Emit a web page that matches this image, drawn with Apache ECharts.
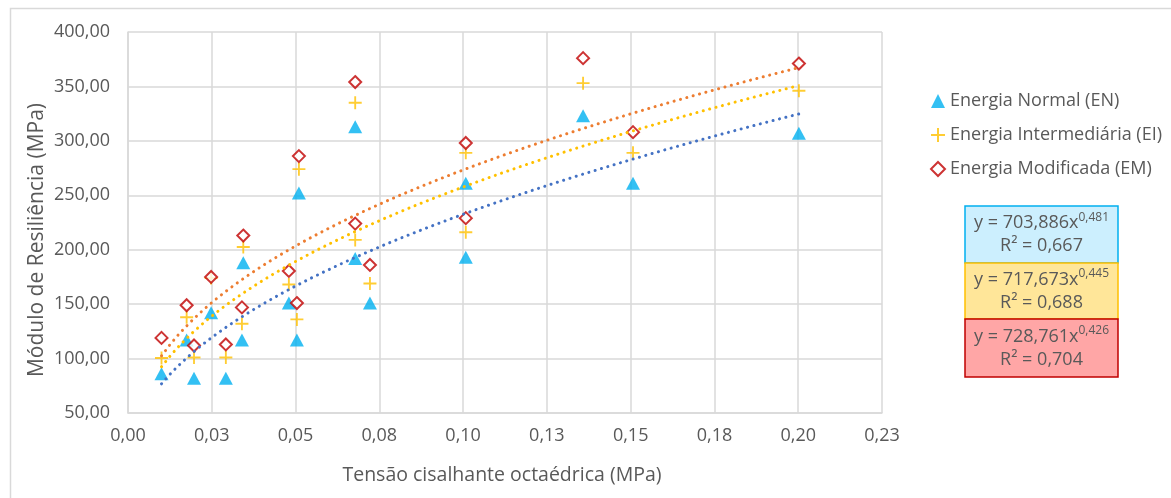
<!DOCTYPE html>
<html>
<head>
<meta charset="utf-8">
<script src="https://cdn.jsdelivr.net/npm/echarts@6/dist/echarts.min.js"></script>
<style>
  html, body { margin: 0; padding: 0; background: #fff; }
  #box { width: 1171px; height: 498px; }
</style>
</head>
<body>
<div id="box"></div>
<script>
var xValues = [0.0100, 0.0175, 0.0197, 0.0248, 0.0292, 0.0344, 0.0340, 0.0480, 0.0504, 0.0510, 0.0678, 0.0678, 0.0722, 0.1008, 0.1008, 0.1358, 0.1507, 0.2002];
var enValues = [86, 117, 82, 142, 82, 188, 117, 151, 117, 252, 313, 192, 151, 261, 193, 323, 261, 307];
var eiValues = [100.5, 138, 101, 174, 101, 202.5, 132, 168, 136, 274, 335, 209, 169, 289, 216, 353, 289, 346];
var emValues = [119, 149, 112, 175, 113, 213, 147, 180.5, 151, 286, 354, 224, 186, 298, 229, 376, 308, 371];

var seriesNames = ['Energia Normal (EN)', 'Energia Intermediária (EI)', 'Energia Modificada (EM)'];
// power trendlines y = a*x^b, as printed on the chart
var trendA = [703.886, 717.673, 728.761];
var trendB = [0.481, 0.445, 0.426];
var trendR2 = ['0,667', '0,688', '0,704'];

var xTickLabels = ['0,00', '0,03', '0,05', '0,08', '0,10', '0,13', '0,15', '0,18', '0,20', '0,23'];
var yTickLabels = ['50,00', '100,00', '150,00', '200,00', '250,00', '300,00', '350,00', '400,00'];

function pairs(ys) {
    return xValues.map(function (x, i) { return [x, ys[i]]; });
}

function trend(k) {
    var xmin = Math.min.apply(null, xValues), xmax = Math.max.apply(null, xValues);
    var pts = [];
    for (var i = 0; i <= 80; i++) {
        var x = xmin + (xmax - xmin) * i / 80;
        pts.push([x, trendA[k] * Math.pow(x, trendB[k])]);
    }
    return pts;
}

var txt = '#595959';
var gridColor = '#D9D9D9';
var plusPath = 'path://M6,0h2v6h6v2h-6v6h-2v-6h-6v-2h6z';

var boxFill = ['#CCEFFE', '#FFE699', '#FFA6A6'];
var boxStroke = ['#00B0F0', '#FFC000', '#C00000'];
var boxTop = [206, 263, 319];
var boxH = [57, 56, 58];

var graphics = [{
    type: 'rect', left: 8, top: 6, silent: true,
    shape: { width: 1300, height: 600 },
    style: { fill: 'none', stroke: '#D9D9D9', lineWidth: 1.5 }
}, {
    // y axis title (sits a bit below the plot centre, as in the original)
    type: 'text', silent: true, x: 37, y: 240, rotation: Math.PI / 2,
    style: {
        text: 'Módulo de Resiliência (MPa)', align: 'center', verticalAlign: 'middle',
        fontSize: 21, fontFamily: 'Open Sans', fill: txt
    }
}];
for (var k = 0; k < 3; k++) {
    graphics.push({
        type: 'rect', silent: true,
        shape: { x: 965, y: boxTop[k], width: 153, height: boxH[k] },
        style: { fill: boxFill[k], stroke: boxStroke[k], lineWidth: 1.5 }
    });
    graphics.push({
        type: 'text', silent: true,
        x: 1041.5, y: boxTop[k] + boxH[k] / 2,
        style: {
            text: '{a|y = ' + trendA[k].toFixed(3).replace('.', ',') + 'x}{s|' + trendB[k].toFixed(3).replace('.', ',') + '}\n{a|R² = ' + trendR2[k] + '}',
            align: 'center', verticalAlign: 'middle',
            rich: {
                a: { fontSize: 18, fontFamily: 'Open Sans', fill: txt, lineHeight: 23 },
                s: { fontSize: 12, fontFamily: 'Open Sans', fill: txt, lineHeight: 23, verticalAlign: 'top' }
            }
        }
    });
}

var chart = echarts.init(document.getElementById('box'));
var option = {
    animation: false,
    textStyle: { fontFamily: 'Open Sans' },
    grid: { left: 128, right: 289, top: 32, bottom: 85 },
    legend: {
        orient: 'vertical', left: 925, top: 87,
        itemWidth: 14, itemHeight: 14, itemGap: 16,
        data: seriesNames,
        textStyle: { color: txt, fontSize: 18, fontFamily: 'Open Sans', lineHeight: 18 }
    },
    xAxis: {
        type: 'value', min: 0, max: 0.225, interval: 0.025,
        axisLine: { lineStyle: { color: gridColor, width: 1.5 } },
        axisTick: { show: false },
        splitLine: { lineStyle: { color: gridColor, width: 1.5 } },
        axisLabel: {
            color: txt, fontSize: 18, margin: 14,
            formatter: function (v) { return xTickLabels[Math.round(v / 0.025)]; }
        },
        name: 'Tensão cisalhante octaédrica (MPa)', nameLocation: 'middle', nameGap: 52,
        nameTextStyle: { color: txt, fontSize: 19.5, padding: [0, 6, 0, 0] }
    },
    yAxis: {
        type: 'value', min: 50, max: 400, interval: 50,
        axisLine: { show: true, lineStyle: { color: gridColor, width: 1.5 } },
        axisTick: { show: false },
        splitLine: { lineStyle: { color: gridColor, width: 1.5 } },
        axisLabel: {
            color: txt, fontSize: 18, margin: 18,
            formatter: function (v) { return yTickLabels[Math.round((v - 50) / 50)]; }
        }
    },
    graphic: graphics,
    series: [
        {
            name: seriesNames[0], type: 'scatter', data: pairs(enValues),
            symbol: 'triangle', symbolSize: [14, 13],
            itemStyle: { color: '#00B0F0' }
        },
        {
            name: seriesNames[1], type: 'scatter', data: pairs(eiValues),
            symbol: plusPath, symbolSize: 13,
            itemStyle: { color: '#FFC000' }
        },
        {
            name: seriesNames[2], type: 'scatter', data: pairs(emValues),
            symbol: 'diamond', symbolSize: 12,
            itemStyle: { color: '#ffffff', borderColor: '#C00000', borderWidth: 2 }
        },
        {
            name: 'trendEN', type: 'line', data: trend(0), showSymbol: false, silent: true,
            lineStyle: { color: '#4472C4', width: 3, type: [0.1, 6.5], cap: 'round' }
        },
        {
            name: 'trendEI', type: 'line', data: trend(1), showSymbol: false, silent: true,
            lineStyle: { color: '#FFC000', width: 3, type: [0.1, 6.5], cap: 'round' }
        },
        {
            name: 'trendEM', type: 'line', data: trend(2), showSymbol: false, silent: true,
            lineStyle: { color: '#ED7D31', width: 3, type: [0.1, 6.5], cap: 'round' }
        }
    ]
};
chart.setOption(option);
</script>
</body>
</html>
